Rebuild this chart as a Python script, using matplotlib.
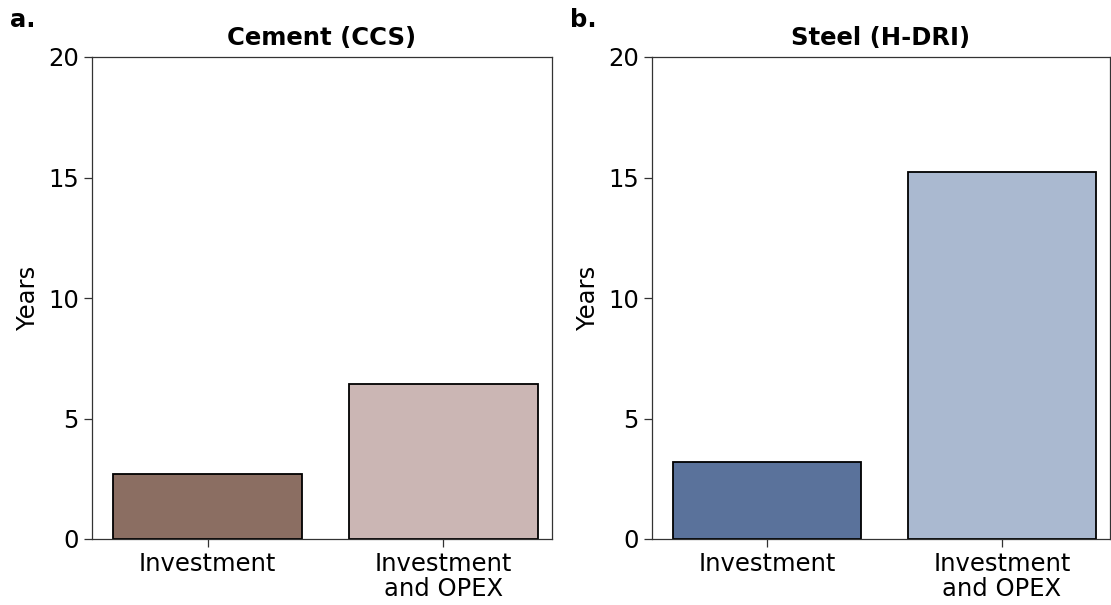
import matplotlib.pyplot as plt

# Payback period data
categories = ["Investment", "Investment\nand OPEX"]
cement_years = [2.71, 6.42]
steel_years = [3.21, 15.22]
cement_colors = ["#8b6e62", "#cbb6b4"]
steel_colors = ["#5a729b", "#aab9d0"]

fig = plt.figure(figsize=(11.11, 6.05), dpi=100)
ax1 = fig.add_axes([92 / 1111, 66 / 605, 460 / 1111, 482 / 605])
ax2 = fig.add_axes([652 / 1111, 66 / 605, 458 / 1111, 482 / 605])

panels = [
    (ax1, cement_years, cement_colors, "Cement (CCS)", "a."),
    (ax2, steel_years, steel_colors, "Steel (H-DRI)", "b."),
]

fs = 17.5
for ax, vals, cols, title, letter in panels:
    ax.bar(range(len(categories)), vals, width=0.8, color=cols,
           edgecolor="black", linewidth=1.3)
    ax.set_xticks(range(len(categories)))
    ax.set_xticklabels(categories, fontsize=fs, linespacing=1.05)
    ax.set_xlim(-0.49, 1.46)
    ax.set_ylim(0, 20)
    ax.set_yticks([0, 5, 10, 15, 20])
    ax.tick_params(axis="both", labelsize=fs, length=6, width=0.9, color="#333333")
    ax.set_ylabel("Years", fontsize=fs, labelpad=6)
    ax.set_title(title, fontsize=fs, fontweight="bold", pad=9)
    for s in ax.spines.values():
        s.set_linewidth(0.9)
        s.set_color("#333333")

fig.text(10 / 1111, 1 - 20 / 605, "a.", fontsize=fs, fontweight="bold", va="center")
fig.text(570 / 1111, 1 - 20 / 605, "b.", fontsize=fs, fontweight="bold", va="center")

plt.savefig("out.png", dpi=100)
